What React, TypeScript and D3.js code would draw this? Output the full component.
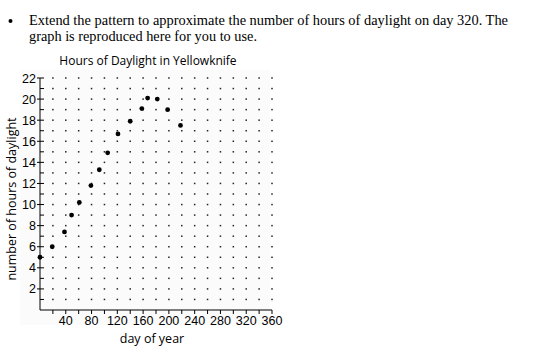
import * as d3 from "d3";

const days = [0, 19, 38, 49, 61, 79, 92, 105, 121, 140, 158, 167, 182, 198, 218];
const hours = [5.0, 6.0, 7.4, 9.0, 10.2, 11.8, 13.3, 14.9, 16.7, 17.9, 19.1, 20.1, 20.0, 19.0, 17.5];

const xTickLabels = [40, 80, 120, 160, 200, 240, 280, 320, 360];
const yTickLabels = [2, 4, 6, 8, 10, 12, 14, 16, 18, 20, 22];

const width = 535;
const height = 353;

const xScale = d3.scaleLinear().domain([0, 360]).range([40, 272]);
const yScale = d3.scaleLinear().domain([0, 22]).range([310, 78]);

const gridDays = d3.range(20, 361, 20);
const gridHours = d3.range(1, 23, 1);

const serif = "'Liberation Serif', 'Times New Roman', serif";
const sans = "'Open Sans', 'Noto Sans', sans-serif";
const tickFont = "'Liberation Sans', Arial, sans-serif";

export default function App() {
  const points = days.map((d, i) => ({ day: d, hrs: hours[i] }));

  return (
    <svg
      width={width}
      height={height}
      viewBox={`0 0 ${width} ${height}`}
      style={{ position: "absolute", left: 0, top: 0, background: "#fff" }}
    >
      {/* question text */}
      <circle cx={10.5} cy={21} r={2} fill="#000" />
      <text x={29} y={25} fontFamily={serif} fontSize={15} textLength={479} lengthAdjust="spacingAndGlyphs" fill="#000">
        Extend the pattern to approximate the number of hours of daylight on day 320. The
      </text>
      <text x={29} y={41} fontFamily={serif} fontSize={15} textLength={228} lengthAdjust="spacingAndGlyphs" fill="#000">
        graph is reproduced here for you to use.
      </text>

      <rect x={20} y={70} width={250} height={255} fill="#fbfbfb" />

      <text x={148} y={65} textAnchor="middle" fontFamily={sans} fontSize={12} fill="#000">
        Hours of Daylight in Yellowknife
      </text>

      {/* dot grid */}
      {gridHours.map((h) =>
        gridDays.map((d) => (
          <rect key={`g-${h}-${d}`} x={xScale(d) - 0.75} y={yScale(h) - 0.75} width={1.5} height={1.5} fill="#222" />
        ))
      )}

      {/* axes */}
      <line x1={xScale(0)} x2={xScale(0)} y1={yScale(22)} y2={yScale(0)} stroke="#000" strokeWidth={1} />
      <line x1={xScale(0)} x2={xScale(360)} y1={yScale(0)} y2={yScale(0)} stroke="#000" strokeWidth={1} />

      {gridHours.map((h) => (
        <line
          key={`yt-${h}`}
          x1={h % 2 === 0 ? xScale(0) - 3 : xScale(0)}
          x2={xScale(0) + 4}
          y1={yScale(h)}
          y2={yScale(h)}
          stroke="#000"
          strokeWidth={1}
        />
      ))}
      {gridDays.map((d) => (
        <line key={`xt-${d}`} x1={xScale(d)} x2={xScale(d)} y1={yScale(0)} y2={yScale(0) + 4} stroke="#000" strokeWidth={1} />
      ))}

      {yTickLabels.map((t) => (
        <text key={`yl-${t}`} x={xScale(0) - 4} y={yScale(t) + 4.5} textAnchor="end" fontFamily={tickFont} fontSize={12.5} fill="#000">
          {t}
        </text>
      ))}
      {xTickLabels.map((t) => (
        <text key={`xl-${t}`} x={xScale(t)} y={yScale(0) + 15} textAnchor="middle" fontFamily={tickFont} fontSize={12.5} fill="#000">
          {t}
        </text>
      ))}

      <text x={152} y={343} textAnchor="middle" fontFamily={sans} fontSize={12.5} fill="#000">
        day of year
      </text>
      <text
        transform={`translate(16, 199) rotate(-90)`}
        textAnchor="middle"
        fontFamily={sans}
        fontSize={12.5}
        fill="#000"
      >
        number of hours of daylight
      </text>

      {/* data */}
      {points.map((p, i) => (
        <circle key={`p-${i}`} cx={xScale(p.day)} cy={yScale(p.hrs)} r={2.4} fill="#000" />
      ))}
    </svg>
  );
}
